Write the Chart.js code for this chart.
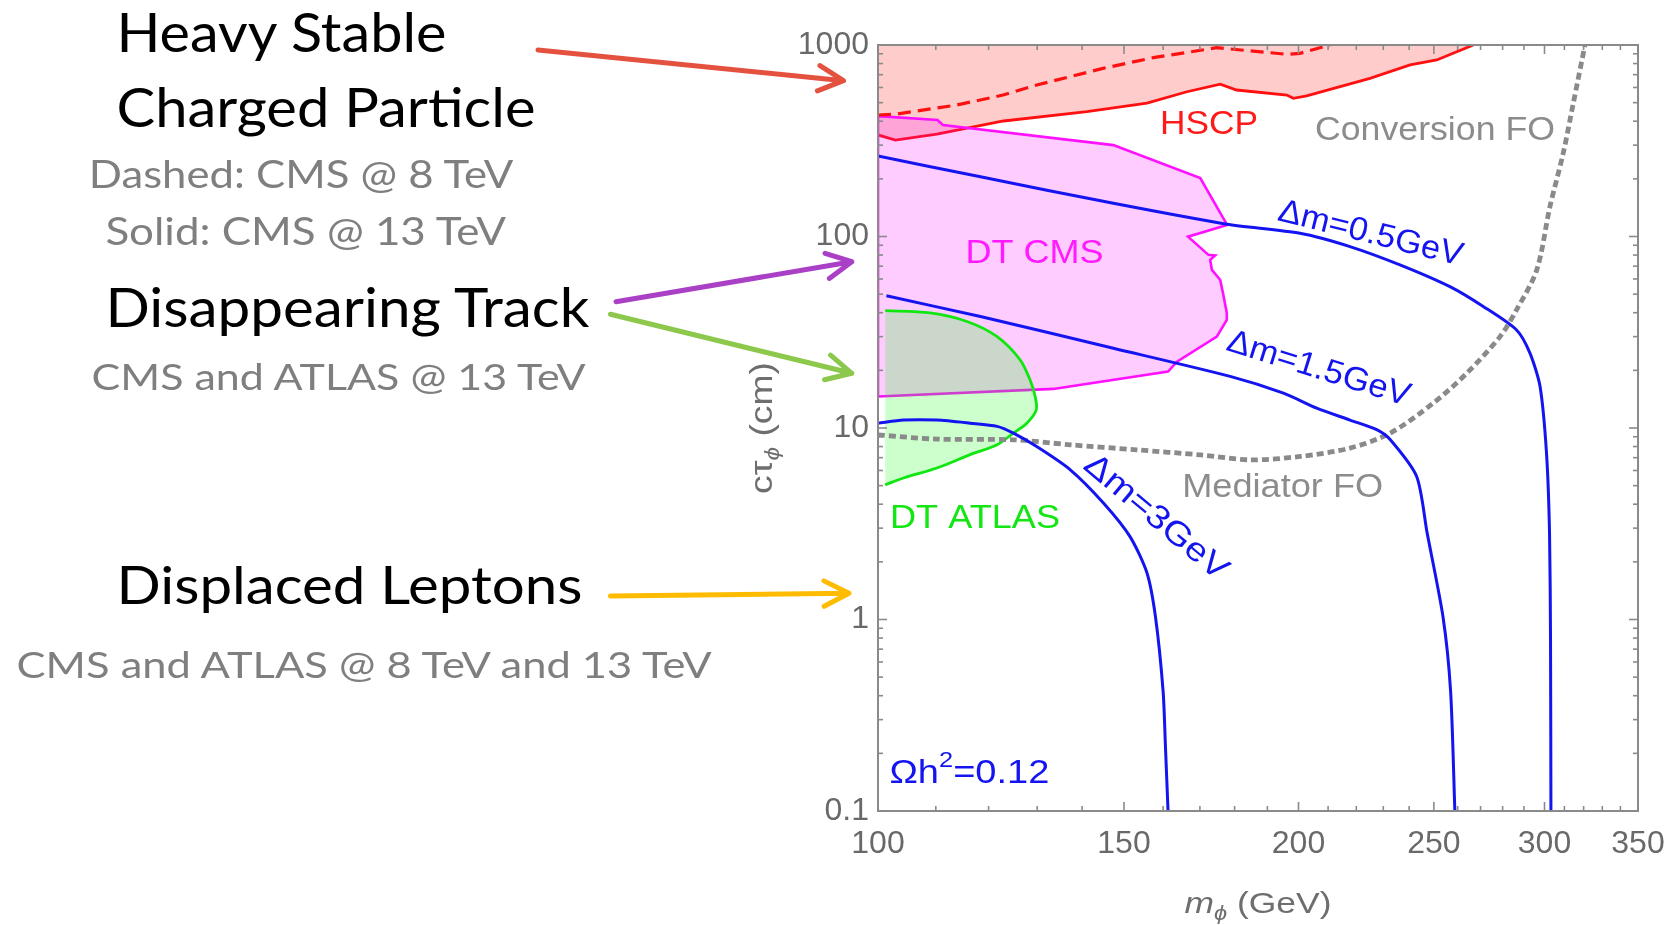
<!DOCTYPE html>
<html>
<head>
<meta charset="utf-8">
<title>Compressed mass spectrum: long-lived mediator limits</title>
<script src="https://cdn.jsdelivr.net/npm/chart.js@4.4.1/dist/chart.umd.min.js"></script>
<style>
  html, body { margin: 0; padding: 0; background: #fff; }
  #wrap { position: relative; width: 1670px; height: 925px; overflow: hidden; }
  #plot { position: absolute; left: 0; top: 0; }
  #notes { position: absolute; left: 0; top: 0; pointer-events: none; }
</style>
</head>
<body>
<div id="wrap">
  <canvas id="plot" width="1670" height="925"></canvas>
  <svg id="notes" width="1670" height="925" xmlns="http://www.w3.org/2000/svg">
    <g font-family="Lato, 'Open Sans', sans-serif" id="noteText"></g>
    <g id="noteArrows" fill="none" stroke-width="5" stroke-linecap="round" stroke-linejoin="round"></g>
  </svg>
</div>
<script>
// ---- axis ticks (m_phi in GeV, c*tau in cm) ----
const massMajor = [100, 150, 200, 250, 300, 350];
const massLabels = ['100', '150', '200', '250', '300', '350'];
const massMinor = [110, 120, 130, 140, 160, 170, 180, 190, 210, 220, 230, 240, 260, 270, 280, 290, 310, 320, 330, 340];
const ctauMajor = [0.1, 1, 10, 100, 1000];
const ctauLabels = ['0.1', '1', '10', '100', '1000'];
const ctauMinor = [0.2, 0.3, 0.4, 0.5, 0.6, 0.7, 0.8, 0.9, 2, 3, 4, 5, 6, 7, 8, 9,
                   20, 30, 40, 50, 60, 70, 80, 90, 200, 300, 400, 500, 600, 700, 800, 900];

// ---- heavy stable charged particle limits ----
const hscp13Mass = [100, 102.9, 110.2, 123.0, 141.1, 155.8, 166.4, 175.8, 180.6, 196.2, 198.3, 202.7, 225.0, 240.4, 251.2, 266.8];
const hscp13Ctau = [339, 319, 342, 401, 449, 497, 570, 624, 582, 548, 527, 542, 670, 787, 835, 1000];
const hscp8Mass = [100, 102.9, 113.9, 122.9, 129.9, 144.9, 157.4, 174.8, 196.2, 200.5, 210.7];
const hscp8Ctau = [431, 435, 486, 548, 618, 755, 859, 968, 894, 905, 1000];

// ---- disappearing track regions (closed outlines) ----
const dtCmsMass = [100, 110.3, 111.3, 147.4, 170.1, 177.8, 166.7, 172.4, 174.3, 172.9, 173.4, 175.8, 176.7, 177.7, 177.7,
                   174.8, 163.7, 161.3, 133.5, 100, 100];
const dtCmsCtau = [425, 406, 382, 300, 202, 115, 99.8, 80.2, 79.5, 75.5, 66.9, 59.3, 49.5, 39.9, 36.7,
                   30.0, 22.2, 19.7, 16.0, 14.6, 425];
const dtAtlasMass = [101.2, 109.0, 115.8, 121.7, 126.4, 128.5, 129.6, 129.8, 127.8, 125.0, 121.7, 116.4, 110.2, 104.3, 101.2];
const dtAtlasCtau = [41.0, 39.9, 36.0, 30.0, 22.7, 17.8, 14.5, 12.4, 10.6, 9.4, 8.17, 7.26, 6.18, 5.48, 5.05];

// ---- relic-abundance contours, Omega h^2 = 0.12 ----
const dm05Mass = [100, 118.4, 147.4, 177.7, 200.5, 217.7, 236.4, 256.7, 271.2, 286.5, 292.9, 297.8, 301.0, 302.5, 303.0, 303.2];
const dm05Ctau = [263, 205, 149, 116, 104, 88.6, 71.1, 54.7, 43.1, 32.5, 24.6, 16.5, 7.4, 2.85, 0.79, 0.1];
const dm15Mass = [101.4, 118.4, 147.4, 178.7, 195.1, 206.1, 217.7, 227.5, 232.6, 243.0, 247.2, 253.8, 257.0, 258.8];
const dm15Ctau = [49, 38.2, 26.1, 18.6, 15.2, 12.7, 11.0, 9.8, 8.7, 5.58, 2.85, 1.03, 0.42, 0.1];
const dm3Mass = [100, 104.3, 110.2, 116.4, 121.7, 125.0, 129.9, 137.3, 145.0, 151.5, 155.8, 158.0, 160.0, 160.6, 161.3];
const dm3Ctau = [10.6, 11.0, 11.0, 10.6, 10.2, 9.4, 8.0, 6.05, 4.06, 2.71, 1.75, 1.03, 0.42, 0.22, 0.1];

// ---- boundary between mediator and conversion freeze-out ----
const foMass = [100, 110.2, 125.0, 137.3, 153.2, 170.1, 184.7, 200.5, 217.7, 232.6, 249.8, 263.9, 278.8, 286.5, 296.2, 302.7, 309.4, 314.6, 320.7];
const foCtau = [9.2, 8.75, 8.68, 8.17, 7.69, 7.24, 6.82, 7.1, 7.85, 9.4, 13.5, 19.3, 30.0, 41.4, 66.9, 143, 272, 497, 1000];

const pts = (ms, cs) => ms.map((m, i) => ({ x: m, y: cs[i] }));

const BLUE = '#1414f0';
const FRAME = '#8a8a8a';
const TICKTXT = '#696969';
const LABEL_FONT = '"Liberation Sans", Arial, Helvetica, sans-serif';

// text placed inside the frame, anchored in data coordinates (left end of baseline)
const regionLabels = [
  { text: 'HSCP', m: 159.2, c: 343, color: '#ff1a1a', width: 98 },
  { text: 'Conversion FO', m: 205.5, c: 319, color: '#8c8c8c', width: 240 },
  { text: 'DT CMS', m: 115.5, c: 72.6, color: '#ff1aff', width: 138 },
  { text: 'DT ATLAS', m: 102.0, c: 3.0, color: '#14e614', width: 170 },
  { text: 'Mediator FO', m: 165.1, c: 4.37, color: '#8c8c8c', width: 201 },
  { text: 'Δm=0.5GeV', m: 192.9, c: 122, color: BLUE, width: 189, angle: 14 },
  { text: 'Δm=1.5GeV', m: 177.2, c: 25.6, color: BLUE, width: 190, angle: 17.2 },
  { text: 'Δm=3GeV', m: 140.0, c: 6.2, color: BLUE, width: 177, angle: 40 }
];

function drawFitted(ctx, text, x, y, width, color, angle) {
  ctx.save();
  ctx.font = '33px ' + LABEL_FONT;
  ctx.fillStyle = color;
  ctx.textAlign = 'left';
  ctx.textBaseline = 'alphabetic';
  const w = ctx.measureText(text).width;
  ctx.translate(x, y);
  if (angle) ctx.rotate(angle * Math.PI / 180);
  ctx.scale(width / w, 1);
  ctx.fillText(text, 0, 0);
  ctx.restore();
}

// run of text pieces [text, font, dy], centred on or starting at x, stretched to 'length' if given
function drawPieces(ctx, pieces, x, y, align, length) {
  let total = 0;
  pieces.forEach(p => { ctx.font = p[1]; total += ctx.measureText(p[0]).width; });
  const k = length ? length / total : 1;
  ctx.save();
  ctx.translate(align === 'center' ? x - total * k / 2 : x, y);
  ctx.scale(k, 1);
  let cx = 0;
  pieces.forEach(p => {
    ctx.font = p[1];
    ctx.fillText(p[0], cx, p[2]);
    cx += ctx.measureText(p[0]).width;
  });
  ctx.restore();
}

const framePlugin = {
  id: 'frameAndLabels',
  afterDatasetsDraw(chart) {
    const { ctx, chartArea: a, scales: { x, y } } = chart;
    ctx.save();
    // frame
    ctx.strokeStyle = FRAME;
    ctx.lineWidth = 2;
    ctx.strokeRect(a.left, a.top, a.right - a.left, a.bottom - a.top);
    // inward ticks on all four sides
    ctx.lineWidth = 1.6;
    const seg = (x0, y0, x1, y1) => { ctx.beginPath(); ctx.moveTo(x0, y0); ctx.lineTo(x1, y1); ctx.stroke(); };
    const xTicks = (vals, len) => vals.forEach(v => {
      const px = x.getPixelForValue(v);
      seg(px, a.bottom, px, a.bottom - len);
      seg(px, a.top, px, a.top + len);
    });
    const yTicks = (vals, len) => vals.forEach(v => {
      const py = y.getPixelForValue(v);
      seg(a.left, py, a.left + len, py);
      seg(a.right, py, a.right - len, py);
    });
    xTicks(massMajor, 9); xTicks(massMinor, 5);
    yTicks(ctauMajor, 9); yTicks(ctauMinor, 5);

    // region and contour labels
    regionLabels.forEach(l => {
      drawFitted(ctx, l.text, x.getPixelForValue(l.m), y.getPixelForValue(l.c), l.width, l.color, l.angle);
    });

    // relic abundance tag
    ctx.fillStyle = BLUE;
    ctx.textBaseline = 'alphabetic';
    drawPieces(ctx, [
      ['Ωh', '33px ' + LABEL_FONT, 0],
      ['2', '22px ' + LABEL_FONT, -16],
      ['=0.12', '33px ' + LABEL_FONT, 0]
    ], x.getPixelForValue(101.9), y.getPixelForValue(0.14), 'left', 160);

    // axis titles
    ctx.fillStyle = '#6e6e6e';
    drawPieces(ctx, [
      ['m', 'italic 30px ' + LABEL_FONT, 0],
      ['ϕ', 'italic 20px ' + LABEL_FONT, 7],
      [' (GeV)', '30px ' + LABEL_FONT, 0]
    ], (a.left + a.right) / 2, a.bottom + 102, 'center', 147);

    ctx.save();
    ctx.translate(a.left - 106, (a.top + a.bottom) / 2);
    ctx.rotate(-Math.PI / 2);
    drawPieces(ctx, [
      ['cτ', '32px ' + LABEL_FONT, 0],
      ['ϕ', 'italic 21px ' + LABEL_FONT, 7],
      [' (cm)', '32px ' + LABEL_FONT, 0]
    ], 0, 0, 'center', 132);
    ctx.restore();

    ctx.restore();
  }
};

const line = (data, extra) => Object.assign({
  data, showLine: true, pointRadius: 0, pointHoverRadius: 0, fill: false, tension: 0.3
}, extra);

new Chart(document.getElementById('plot'), {
  type: 'scatter',
  data: {
    datasets: [
      line(pts(hscp8Mass, hscp8Ctau), { label: 'HSCP CMS 8 TeV', borderColor: '#ff1010', borderWidth: 3.2, borderDash: [13, 7], tension: 0, order: 1 }),
      line(pts(dm05Mass, dm05Ctau), { label: 'Δm=0.5GeV', borderColor: BLUE, borderWidth: 3, tension: 0.25, order: 2 }),
      line(pts(dm15Mass, dm15Ctau), { label: 'Δm=1.5GeV', borderColor: BLUE, borderWidth: 3, tension: 0.25, order: 3 }),
      line(pts(dm3Mass, dm3Ctau), { label: 'Δm=3GeV', borderColor: BLUE, borderWidth: 3, tension: 0.25, order: 4 }),
      line(pts(foMass, foCtau), { label: 'FO boundary', borderColor: '#8a8a8a', borderWidth: 4.8, borderDash: [7, 4], tension: 0.3, order: 5 }),
      line(pts(dtAtlasMass, dtAtlasCtau), { label: 'DT ATLAS', borderColor: '#10e610', borderWidth: 2.8, tension: 0.3, order: 6 }),
      line(pts(dtAtlasMass, dtAtlasCtau), { label: 'DT ATLAS region', borderColor: 'rgba(0,0,0,0)', borderWidth: 0,
        backgroundColor: 'rgba(0,255,0,0.2)', fill: 'shape', tension: 0.3, order: 7 }),
      line(pts(dtCmsMass, dtCmsCtau), { label: 'DT CMS', borderColor: '#ff10ff', borderWidth: 2.6,
        backgroundColor: 'rgba(255,0,255,0.2)', fill: 'shape', tension: 0, order: 8 }),
      line(pts(hscp13Mass, hscp13Ctau), { label: 'HSCP CMS 13 TeV', borderColor: '#ff1010', borderWidth: 2.8,
        backgroundColor: 'rgba(255,0,0,0.2)', fill: 'end', tension: 0, order: 9 })
    ]
  },
  options: {
    responsive: false,
    animation: false,
    events: [],
    layout: { padding: { left: 798, right: 32, top: 45, bottom: 54 } },
    plugins: { legend: { display: false }, tooltip: { enabled: false }, title: { display: false } },
    scales: {
      x: {
        type: 'logarithmic', min: 100, max: 350,
        grid: { display: false, drawTicks: false },
        border: { display: false },
        afterBuildTicks: s => { s.ticks = massMajor.map(v => ({ value: v })); },
        afterFit: s => { s.height = 60; s.paddingLeft = 0; s.paddingRight = 0; },
        ticks: {
          autoSkip: false, maxRotation: 0, minRotation: 0, padding: 14,
          color: TICKTXT, font: { family: LABEL_FONT, size: 32 },
          callback: (v, i) => massLabels[i]
        }
      },
      y: {
        type: 'logarithmic', min: 0.1, max: 1000,
        grid: { display: false, drawTicks: false },
        border: { display: false },
        afterBuildTicks: s => { s.ticks = ctauMajor.map(v => ({ value: v })); },
        afterFit: s => { s.width = 80; s.paddingTop = 0; s.paddingBottom = 0; },
        ticks: {
          autoSkip: false, padding: 9,
          color: TICKTXT, font: { family: LABEL_FONT, size: 32 },
          callback: (v, i) => ctauLabels[i]
        }
      }
    }
  },
  plugins: [framePlugin]
});

// ---- side annotations: search categories with arrows into the plot ----
const notes = [
  { text: 'Heavy Stable', x: 116.5, y: 51.7, size: 53.5, width: 330, color: '#000000' },
  { text: 'Charged Particle', x: 116.5, y: 126.7, size: 53.5, width: 419, color: '#000000' },
  { text: 'Dashed: CMS @ 8 TeV', x: 88.8, y: 187.7, size: 38.5, width: 424.5, color: '#7f7f7f' },
  { text: 'Solid: CMS @ 13 TeV', x: 105.4, y: 245, size: 38.5, width: 400.6, color: '#7f7f7f' },
  { text: 'Disappearing Track', x: 105.4, y: 326.7, size: 53.5, width: 484, color: '#000000' },
  { text: 'CMS and ATLAS @ 13 TeV', x: 91.6, y: 390, size: 37.5, width: 494, color: '#7f7f7f' },
  { text: 'Displaced Leptons', x: 116.5, y: 604, size: 53, width: 466, color: '#000000' },
  { text: 'CMS and ATLAS @ 8 TeV and 13 TeV', x: 16.6, y: 678.3, size: 37.5, width: 695, color: '#7f7f7f' }
];
const arrows = [
  { from: [538, 50], to: [843.5, 80.7], color: '#e4523f' },
  { from: [616, 301.7], to: [851.8, 261.7], color: '#a940c6' },
  { from: [610.4, 314.3], to: [851.8, 373.3], color: '#8cc84b' },
  { from: [610.4, 596], to: [849, 593.3], color: '#ffbb00' }
];

const SVGNS = 'http://www.w3.org/2000/svg';
const textGroup = document.getElementById('noteText');
notes.forEach(n => {
  const t = document.createElementNS(SVGNS, 'text');
  t.setAttribute('x', n.x);
  t.setAttribute('y', n.y);
  t.setAttribute('font-size', n.size);
  t.setAttribute('fill', n.color);
  t.setAttribute('textLength', n.width);
  t.setAttribute('lengthAdjust', 'spacingAndGlyphs');
  t.textContent = n.text;
  textGroup.appendChild(t);
});
const arrowGroup = document.getElementById('noteArrows');
arrows.forEach(a => {
  const [sx, sy] = a.from, [tx, ty] = a.to;
  const ang = Math.atan2(ty - sy, tx - sx);
  const L = 28, spread = 27 * Math.PI / 180;
  const h1 = [tx - L * Math.cos(ang - spread), ty - L * Math.sin(ang - spread)];
  const h2 = [tx - L * Math.cos(ang + spread), ty - L * Math.sin(ang + spread)];
  const p = document.createElementNS(SVGNS, 'path');
  p.setAttribute('d', `M${sx} ${sy} L${tx} ${ty} M${h1[0]} ${h1[1]} L${tx} ${ty} L${h2[0]} ${h2[1]}`);
  p.setAttribute('stroke', a.color);
  arrowGroup.appendChild(p);
});
</script>
</body>
</html>
